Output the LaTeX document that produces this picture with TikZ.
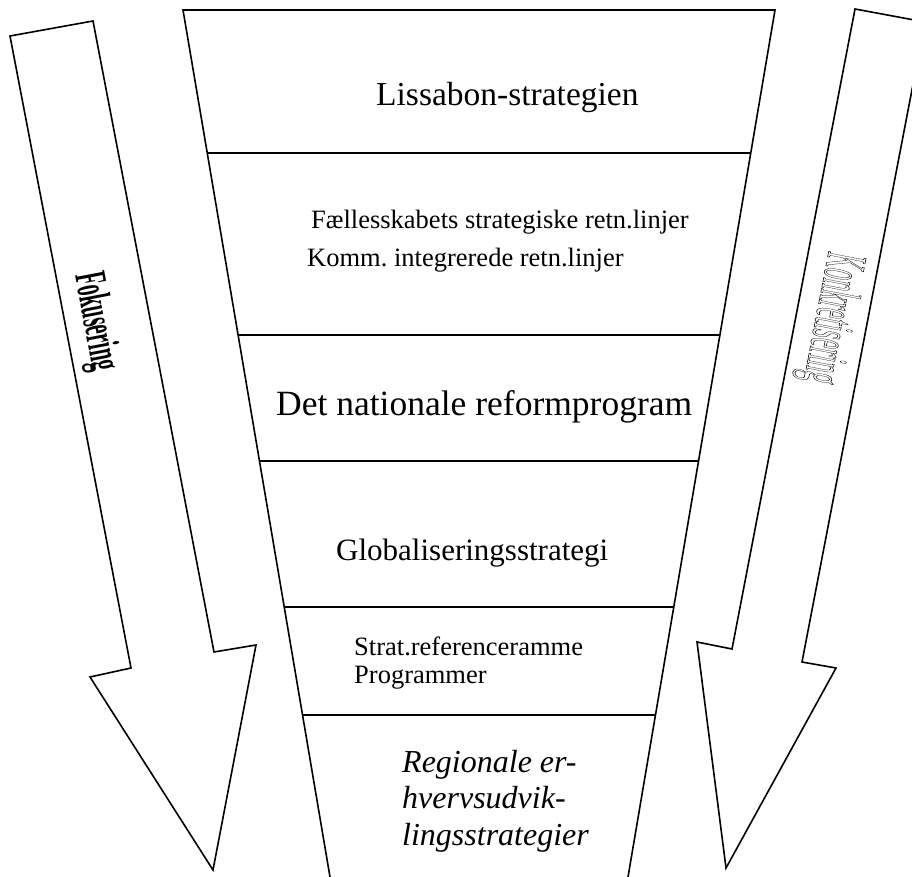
\documentclass[tikz,border=0pt]{standalone}
\usepackage{fontspec}
\usepackage{graphicx}
\setmainfont{Liberation Serif}
\usetikzlibrary{calc}
\frenchspacing
\tikzset{
  outl/.style={line width=1.6pt, line join=miter},
  layertext/.style={anchor=base west, inner sep=0pt},
  smalltext/.style={anchor=base west, inner sep=0pt, font=\fontsize{26.5}{26.5}\selectfont},
  itext/.style={anchor=base west, inner sep=0pt, font=\fontsize{32}{32}\selectfont\itshape},
  sidelabel/.style={inner sep=0pt}
}
\begin{document}
\begin{tikzpicture}[x=1pt,y=-1pt]
\useasboundingbox (0,0) rectangle (912,877);
\clip (0,0) rectangle (912,877);
% funnel
\coordinate (TL) at (183,10);
\coordinate (TR) at (775,10);
\coordinate (BL) at (330,877);
\coordinate (BR) at (628,877);
\coordinate (BLx) at ($(TL)!1.05!(BL)$);
\coordinate (BRx) at ($(TR)!1.05!(BR)$);
\draw[outl] (BLx) -- (TL) -- (TR) -- (BRx);
\foreach \t/\n in {0.1649/a,0.3749/b,0.5202/c,0.6886/d,0.8131/e}{
  \draw[outl] ($(TL)!\t!(BL)$) coordinate (L\n) -- ($(TR)!\t!(BR)$) coordinate (R\n);
}
% left arrow
\draw[outl] (10,36) coordinate (la1) -- (93,21) coordinate (la2) -- (214,652) coordinate (la3)
  -- (256,645) coordinate (la4) -- (213,870) coordinate (la5) -- (90,677) coordinate (la6)
  -- (131,668) coordinate (la7) -- cycle;
% right arrow
\draw[outl] (855,9) coordinate (ra1) -- (925,22) coordinate (ra2) -- (802,662) coordinate (ra3)
  -- (836,668) coordinate (ra4) -- (726,868) coordinate (ra5) -- (697,642) coordinate (ra6)
  -- (732,649) coordinate (ra7) -- cycle;
% texts
\node[layertext, font=\fontsize{33.5}{33.5}\selectfont] (t1) at (376,106) {Lissabon-strategien};
\node[smalltext] (t2a) at (311,229) {Fællesskabets strategiske retn.linjer};
\node[smalltext] (t2b) at (307,266) {Komm. integrerede retn.linjer};
\node[layertext, font=\fontsize{35.5}{35.5}\selectfont] (t3) at (276,415) {Det nationale reformprogram};
\node[layertext, font=\fontsize{31}{31}\selectfont] (t4) at (336,560) {Globaliseringsstrategi};
\node[smalltext] (t5a) at (354,655) {Strat.referenceramme};
\node[smalltext] (t5b) at (354,683) {Programmer};
\begin{scope}
\clip (0,0) rectangle (912,851);
\node[itext] (t6a) at (402,772) {Regionale er-};
\node[itext] (t6b) at (402,808) {hvervsudvik-};
\node[itext] (t6c) at (402,845) {lingsstrategier};
\end{scope}
% side labels
\node[sidelabel, rotate=-79.2] (fok) at (95,322)
  {\scalebox{0.455}[1]{\fontsize{45}{45}\selectfont\bfseries Fokusering}};
\node[sidelabel, rotate=-100.9] (kon) at (830,318)
  {\scalebox{0.38}[1]{\fontsize{58}{58}\selectfont\special{pdf:literal direct 1 Tr 0.6 w}Konkretisering\special{pdf:literal direct 0 Tr}}};
\end{tikzpicture}
\end{document}
